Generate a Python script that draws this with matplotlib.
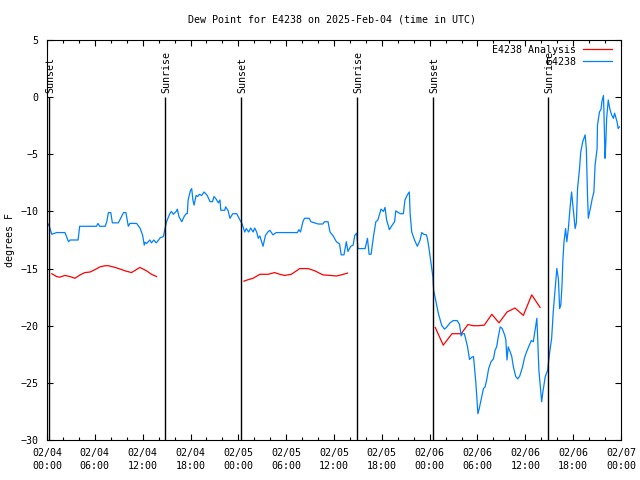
import datetime as dt

import matplotlib
matplotlib.use("Agg")
import matplotlib.pyplot as plt
from matplotlib.ticker import MultipleLocator, FuncFormatter

START = dt.datetime(2025, 2, 4, 0, 0)

# hours since 2025-02-04 00:00 UTC
obs_hours = [
    0.0, 0.2, 0.6, 1.2, 2.25, 2.7, 2.9, 3.9, 4.1, 6.2, 6.4, 6.6, 7.3, 7.5, 7.7,
    8.0, 8.2, 8.95, 9.6, 9.9, 10.2, 10.4, 11.25, 11.7, 12.0, 12.2, 12.3, 12.5,
    12.9, 13.1, 13.4, 13.7, 14.0, 14.2, 14.6, 14.8, 15.0, 15.4, 15.6, 15.85,
    16.2, 16.35, 16.55, 16.9, 17.2, 17.45, 17.6, 17.7, 18.0, 18.15, 18.3, 18.45,
    18.7, 18.9, 19.1, 19.4, 19.7, 20.1, 20.45, 20.75, 20.95, 21.2, 21.5, 21.7,
    21.8, 22.3, 22.4, 22.7, 22.95, 23.3, 23.8, 24.2, 24.45, 24.8, 25.0, 25.3,
    25.55, 25.85, 26.05, 26.3, 26.5, 26.7, 27.1, 27.4, 27.7, 27.95, 28.35,
    28.75, 31.4, 31.6, 31.8, 32.1, 32.3, 32.9, 33.1, 34.0, 34.6, 34.8, 35.25,
    35.5, 35.9, 36.3, 36.7, 36.9, 37.25, 37.55, 37.75, 38.1, 38.4, 38.6, 38.85,
    39.0, 39.9, 40.2, 40.4, 40.65, 40.95, 41.25, 41.5, 41.9, 42.2, 42.4, 42.6,
    42.95, 43.3, 43.6, 43.75, 44.3, 44.7, 44.9, 45.2, 45.45, 45.55, 45.75, 46.1,
    46.45, 46.8, 47.0, 47.25, 47.6, 47.75, 47.95, 48.2, 48.4, 48.5, 48.75, 49.1,
    49.5, 49.85, 50.1, 50.55, 50.95, 51.45, 51.75, 51.95, 52.1, 52.35, 52.5,
    52.75, 53.0, 53.3, 53.5, 53.6, 53.8, 54.05, 54.2, 54.45, 54.75, 54.95,
    55.15, 55.4, 55.7, 56.0, 56.2, 56.4, 56.6, 56.85, 57.1, 57.4, 57.55, 57.7,
    57.85, 58.1, 58.3, 58.5, 58.8, 59.05, 59.3, 59.65, 59.9, 60.15, 60.5, 60.75,
    61.0, 61.25, 61.45, 61.55, 61.7, 62.0, 62.05, 62.2, 62.5, 62.8, 63.0, 63.3,
    63.5, 63.75, 63.95, 64.15, 64.3, 64.45, 64.6, 64.7, 64.85, 65.05, 65.2,
    65.4, 65.6, 65.8, 66.0, 66.25, 66.4, 66.55, 66.8, 66.95, 67.2, 67.5, 67.65,
    67.8, 67.9, 68.15, 68.4, 68.6, 68.75, 69.0, 69.05, 69.3, 69.5, 69.6, 69.8,
    69.85, 70.0, 70.1, 70.2, 70.4, 70.6, 70.85, 71.05, 71.2, 71.5, 71.65, 71.8,
]
obs_dewpt = [
    -11.3, -11.1, -12.0, -11.85, -11.85, -12.65, -12.5, -12.5, -11.3, -11.3,
    -11.05, -11.3, -11.3, -10.9, -10.1, -10.1, -11.0, -11.0, -10.1, -10.1,
    -11.3, -11.05, -11.05, -11.5, -12.1, -12.95, -12.7, -12.8, -12.5, -12.75,
    -12.5, -12.75, -12.5, -12.3, -12.2, -11.5, -10.9, -10.2, -10.0, -10.25,
    -10.0, -9.8, -10.45, -10.9, -10.45, -10.2, -10.2, -9.0, -8.15, -8.0, -9.0,
    -9.45, -8.6, -8.7, -8.5, -8.6, -8.3, -8.6, -9.15, -9.15, -8.7, -8.9, -9.25,
    -9.0, -9.9, -9.9, -9.6, -9.9, -10.6, -10.2, -10.2, -10.75, -11.05, -11.8,
    -11.5, -11.8, -11.45, -11.8, -11.45, -11.8, -12.35, -12.15, -13.05, -12.1,
    -11.8, -11.65, -12.05, -11.85, -11.85, -11.6, -11.8, -10.9, -10.6, -10.6,
    -10.9, -11.1, -11.1, -10.9, -10.9, -11.8, -12.15, -12.65, -12.85, -13.8,
    -13.8, -12.65, -13.5, -13.05, -12.95, -12.1, -11.9, -13.25, -13.25, -12.35,
    -13.75, -13.75, -12.2, -10.9, -10.75, -9.8, -10.0, -9.65, -10.75, -11.6,
    -11.2, -10.9, -9.95, -10.2, -10.2, -9.0, -8.55, -8.3, -10.2, -11.8, -12.5,
    -13.05, -12.5, -11.85, -12.0, -12.05, -12.5, -13.4, -14.7, -15.7, -16.9,
    -17.75, -18.95, -19.95, -20.3, -20.15, -19.75, -19.55, -19.55, -19.9,
    -20.9, -20.7, -20.7, -21.1, -21.85, -22.95, -22.75, -22.7, -23.45, -25.05,
    -27.7, -27.3, -26.5, -25.5, -25.35, -24.75, -23.75, -23.15, -22.9, -22.15,
    -21.85, -21.0, -20.1, -20.25, -20.8, -21.2, -23.0, -21.85, -22.3, -22.7,
    -23.6, -24.45, -24.65, -24.4, -23.6, -22.8, -22.3, -21.7, -21.3, -21.4,
    -20.25, -19.35, -21.2, -23.9, -26.2, -26.65, -25.8, -24.45, -23.9, -22.6,
    -21.1, -18.8, -16.75, -15.0, -15.9, -18.5, -18.2, -16.45, -14.4, -12.65,
    -11.5, -12.65, -11.5, -9.75, -8.3, -9.75, -11.5, -11.0, -8.0, -6.25, -4.8,
    -3.9, -3.3, -4.5, -8.6, -10.6, -9.75, -8.85, -8.3, -5.95, -4.5, -2.45,
    -1.3, -1.05, -0.4, 0.15, -1.05, -5.35, -3.9, -1.85, -0.25, -1.05, -1.6,
    -1.85, -1.4, -2.15, -2.75, -2.6,
]

# analysis, three separate segments (gaps between them)
ana_hours_1 = [0.6, 1.2, 1.6, 2.25, 2.9, 3.5, 4.15, 4.75, 5.4, 6.0, 6.65, 7.3,
               7.7, 8.55, 9.2, 9.8, 10.6, 11.65, 12.5, 13.1, 13.75]
ana_dewpt_1 = [-15.45, -15.7, -15.75, -15.6, -15.7, -15.85, -15.55, -15.35,
               -15.3, -15.1, -14.85, -14.75, -14.75, -14.9, -15.05, -15.2,
               -15.35, -14.9, -15.2, -15.5, -15.7]
ana_hours_2 = [24.7, 25.1, 25.85, 26.7, 27.75, 28.55, 29.2, 29.8, 30.65, 31.7,
               32.75, 33.6, 34.6, 35.5, 36.3, 36.9, 37.7]
ana_dewpt_2 = [-16.1, -16.0, -15.85, -15.5, -15.5, -15.35, -15.5, -15.6, -15.5,
               -15.0, -15.0, -15.2, -15.55, -15.6, -15.65, -15.55, -15.4]
ana_hours_3 = [48.7, 49.7, 50.8, 51.95, 52.8, 53.5, 54.1, 54.85, 55.8, 56.7,
               57.7, 58.7, 59.75, 60.8, 61.85]
ana_dewpt_3 = [-20.15, -21.7, -20.7, -20.7, -19.9, -20.0, -20.0, -19.95, -19.0,
               -19.75, -18.8, -18.45, -19.1, -17.3, -18.4]

sun_hours = [0.25, 14.8, 24.38, 38.9, 48.45, 62.9]
sun_labels = ["Sunset", "Sunrise", "Sunset", "Sunrise", "Sunset", "Sunrise"]

plt.rcParams["font.family"] = "DejaVu Sans Mono"
plt.rcParams["font.size"] = 7.2

fig = plt.figure(figsize=(6.4, 4.8), dpi=100)
ax = fig.add_axes([47 / 640, 40 / 480, 574 / 640, 400 / 480])

ax.plot(ana_hours_1, ana_dewpt_1, color="#ff0000", lw=0.9, label="E4238 Analysis")
ax.plot(ana_hours_2, ana_dewpt_2, color="#ff0000", lw=0.9)
ax.plot(ana_hours_3, ana_dewpt_3, color="#ff0000", lw=0.9)
ax.plot(obs_hours, obs_dewpt, color="#0080ff", lw=0.9, label="E4238")

for h, lab in zip(sun_hours, sun_labels):
    ax.vlines(h, -30, 0, color="black", lw=1.0)
    ax.text(h + 0.15, 0.4, lab, rotation=90, ha="center", va="bottom")

ax.set_xlim(0, 72)
ax.set_ylim(-30, 5)
ax.xaxis.set_major_locator(MultipleLocator(6))
ax.xaxis.set_minor_locator(MultipleLocator(2))
ax.yaxis.set_major_locator(MultipleLocator(5))


def fmt_time(x, pos):
    t = START + dt.timedelta(hours=x)
    return t.strftime("%m/%d\n%H:%M")


ax.xaxis.set_major_formatter(FuncFormatter(fmt_time))
ax.tick_params(which="both", direction="in", top=True, right=True)
ax.tick_params(which="major", length=4, width=0.8)
ax.tick_params(which="minor", length=2.5, width=0.8)
ax.tick_params(axis="x", pad=6)
ax.tick_params(axis="y", pad=6)
for lbl in ax.get_xticklabels():
    lbl.set_linespacing(1.3)

ax.set_ylabel("degrees F")
ax.yaxis.set_label_coords(-0.056, 0.5)

fig.text(332 / 640, 1 - 20 / 480, "Dew Point for E4238 on 2025-Feb-04 (time in UTC)",
         ha="center", va="center")

ax.legend(loc="upper right", frameon=False, markerfirst=False, handlelength=2.9,
          handletextpad=0.7, labelspacing=0.2, bbox_to_anchor=(1.0, 1.01))

fig.savefig("out.png", dpi=100)
